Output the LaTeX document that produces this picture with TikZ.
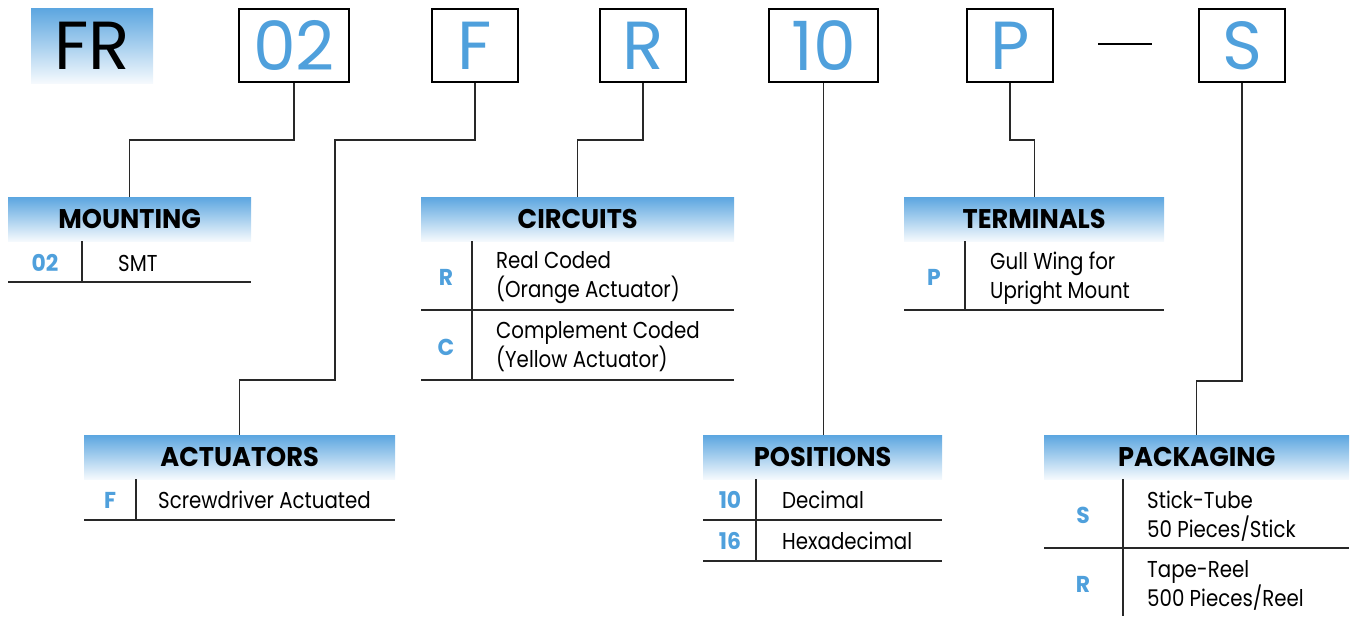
\documentclass[tikz,border=0pt]{standalone}
\usepackage{fontspec}
\setmainfont{Poppins}
\newfontfamily\bodyfont{Poppins}[FakeStretch=0.86]
\newfontfamily\hdrfont{Poppins}[FakeStretch=0.95]
\usetikzlibrary{positioning}
\definecolor{codeblue}{RGB}{79,160,220}
\definecolor{hdrblue}{RGB}{92,166,224}
\definecolor{linegray}{RGB}{40,40,40}
\tikzset{
  codebox/.style={draw=black, line width=2pt, minimum height=73pt, inner sep=0pt, text=codeblue, font=\fontsize{68}{68}\selectfont},
  hdr/.style={anchor=north west, minimum height=44pt, inner sep=0pt, top color=hdrblue, bottom color=hdrblue!6, font=\hdrfont\fontsize{27}{27}\selectfont\bfseries},
  conn/.style={draw=linegray, line width=1.3pt},
  rule/.style={draw=linegray, line width=1.3pt},
  code/.style={text=codeblue, font=\hdrfont\fontsize{23}{23}\selectfont\bfseries, inner sep=0pt},
  desc/.style={anchor=west, align=left, inner sep=0pt, font=\bodyfont\fontsize{23}{29}\selectfont},
}
\begin{document}
\begin{tikzpicture}[x=1pt,y=-1pt]
\useasboundingbox (0,0) rectangle (1351,616);
% top code
\node[anchor=north west, minimum width=122pt, minimum height=75pt, inner sep=0pt, top color=hdrblue, bottom color=hdrblue!6, font=\fontsize{68}{68}\selectfont] (fr) at (31,8) {FR};
\node[codebox, minimum width=110pt] (b02) at (294,45.5) {02};
\node[codebox, minimum width=86pt] (bF) at (475,45.5) {F};
\node[codebox, minimum width=86pt] (bR) at (643,45.5) {R};
\node[codebox, minimum width=109pt] (b10) at (823.5,45.5) {10};
\node[codebox, minimum width=86pt] (bP) at (1010,45.5) {P};
\node[codebox, minimum width=86pt] (bS) at (1242,45.5) {S};
\coordinate (dashL) at (1098,44);
\coordinate (dashR) at (1152,44);
\draw[line width=2pt] (dashL) -- (dashR);

% MOUNTING
\node[hdr, minimum width=243pt] (mount) at (8,197) {MOUNTING};
\draw[rule] (82,241) -- (82,282);
\draw[rule] (8,282) -- (251,282);
\node[code] (m02) at (45,263) {02};
\node[desc] (msmt) at (118,263) {SMT};

% ACTUATORS
\node[hdr, minimum width=311pt] (act) at (84,435) {ACTUATORS};
\draw[rule] (136,479) -- (136,520);
\draw[rule] (84,520) -- (395,520);
\node[code] (aF) at (110,500) {F};
\node[desc] (adesc) at (158,500) {Screwdriver Actuated};

% CIRCUITS
\node[hdr, minimum width=313pt] (circ) at (421,197) {CIRCUITS};
\draw[rule] (472,241) -- (472,380);
\draw[rule] (421,310) -- (734,310);
\draw[rule] (421,380) -- (734,380);
\node[code] (cR) at (446,277) {R};
\node[desc] (cRd) at (496,278) {Real Coded\\(Orange Actuator)};
\node[code] (cC) at (446,347) {C};
\node[desc] (cCd) at (496,347) {Complement Coded\\(Yellow Actuator)};

% TERMINALS
\node[hdr, minimum width=260pt] (term) at (904,197) {TERMINALS};
\draw[rule] (965,241) -- (965,310);
\draw[rule] (904,310) -- (1164,310);
\node[code] (tP) at (934,277) {P};
\node[desc] (tPd) at (990,278) {Gull Wing for\\Upright Mount};

% POSITIONS
\node[hdr, minimum width=239pt] (pos) at (703,435) {POSITIONS};
\draw[rule] (756,479) -- (756,561);
\draw[rule] (703,520) -- (942,520);
\draw[rule] (703,561) -- (942,561);
\node[code] (p10) at (730,500) {10};
\node[desc] (p10d) at (782,500) {Decimal};
\node[code] (p16) at (730,541) {16};
\node[desc] (p16d) at (782,541) {Hexadecimal};

% PACKAGING
\node[hdr, minimum width=305pt] (pack) at (1044,435) {PACKAGING};
\draw[rule] (1123,479) -- (1123,616);
\draw[rule] (1044,548) -- (1349,548);
\node[code] (kS) at (1083,515) {S};
\node[desc] (kSd) at (1147,516) {Stick-Tube\\50 Pieces/Stick};
\node[code] (kR) at (1083,584) {R};
\node[desc] (kRd) at (1147,585) {Tape-Reel\\500 Pieces/Reel};

% connectors
\coordinate (jogA) at (335,380);
\draw[conn] (b02.south) -- ++(0,57) -| (mount.north);
\draw[conn] (bF.south) -- ++(0,57) -| (jogA) -| (act.north);
\draw[conn] (bR.south) -- ++(0,57) -| (circ.north);
\draw[conn] (b10.south) -- (b10.south |- pos.north);
\draw[conn] (bP.south) -- ++(0,57) -| (term.north);
\draw[conn] (bS.south) -- ++(0,298) -| (pack.north);
\end{tikzpicture}
\end{document}
